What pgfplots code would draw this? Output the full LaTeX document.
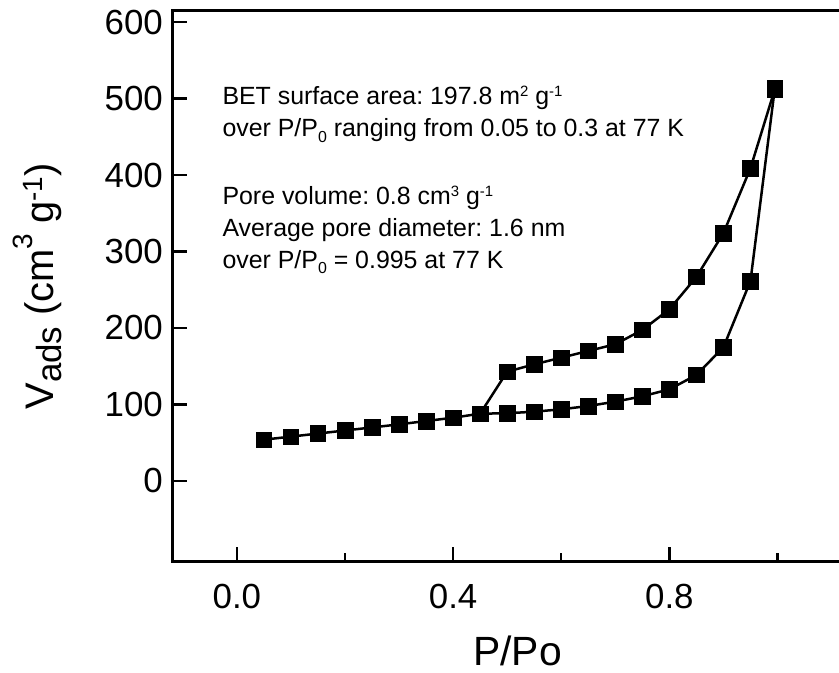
\documentclass[border=0pt]{standalone}
\usepackage{graphicx}
\usepackage{pgfplots}
\pgfplotsset{compat=1.18}
\usepackage{pgfplotstable}
\usepackage{fontspec}
\setmainfont{Liberation Sans}
\frenchspacing

\pgfplotstableread{
x y
0.05 54
0.10 58
0.15 62
0.20 66
0.25 70
0.30 74
0.35 78.4
0.40 82.7
0.45 88
0.50 88.5
0.55 90.6
0.60 93.7
0.65 98
0.70 103.7
0.75 110.7
0.80 119.8
0.85 138.6
0.90 174.8
0.95 261.4
0.995 513
}\adsorption

\pgfplotstableread{
x y
0.995 512
0.95 408.8
0.90 324
0.85 266.7
0.80 224.4
0.75 197.4
0.70 178.7
0.65 170
0.60 161.2
0.55 152.5
0.50 142.9
0.45 88
}\desorption

\newcommand{\annsup}[1]{\raisebox{8.5bp}{\fontsize{15}{15}\selectfont #1}}
\newcommand{\annsub}[1]{\raisebox{-5.5bp}{\fontsize{16}{16}\selectfont #1}}

\begin{document}
\begin{tikzpicture}[x=1bp,y=1bp]
\useasboundingbox (0,0) rectangle (839,673);
\begin{axis}[
  at={(172bp,111bp)}, anchor=south west,
  scale only axis, width=667bp, height=551bp,
  xmin=-0.12, xmax=1.1138, ymin=-105.9, ymax=614.4,
  axis x line*=bottom, axis y line*=left,
  axis line style={-, line width=3bp, line cap=rect},
  xtick={0,0.4,0.8}, xticklabels={0.0,0.4,0.8},
  minor xtick={0.2,0.6,1.0},
  ytick={0,100,200,300,400,500,600},
  tick align=inside,
  major tick length=15bp, minor tick length=9bp,
  every tick/.style={line width=2.5bp, black},
  /pgf/number format/assume math mode=true,
  tick label style={font=\fontsize{35}{35}\selectfont},
  xticklabel style={anchor=base, yshift=-47bp},
  yticklabel style={anchor=east, inner sep=0pt, xshift=-9bp},
  xlabel={P/Po},
  xlabel style={font=\fontsize{41}{41}\selectfont, at={(rel axis cs:0.518,0)}, anchor=base, yshift=-104bp, inner sep=0pt, text depth=0pt},
  ylabel={V\raisebox{-8.7bp}{\fontsize{35}{35}\selectfont ads}\hspace{0.28em}(cm\raisebox{21bp}{\fontsize{28}{28}\selectfont 3}\hspace{0.25em}g\raisebox{11bp}{\fontsize{28}{28}\selectfont -1})},
  ylabel style={font=\fontsize{40}{40}\selectfont, at={(rel axis cs:-0.1784,0.5)}, anchor=base},
  clip=false,
]
\addplot[black, line width=2.5bp, mark=square*, mark size=7.8bp,
  mark options={solid, fill=black, line width=0.6bp}] table[x=x,y=y] {\adsorption};
\addplot[black, line width=2.5bp, mark=square*, mark size=7.8bp,
  mark options={solid, fill=black, line width=0.6bp}] table[x=x,y=y] {\desorption};
\draw[line width=3bp, line cap=rect] (rel axis cs:0,1) -- (rel axis cs:1,1);
\end{axis}
\begin{scope}[every node/.style={anchor=base west, inner sep=0pt, font=\fontsize{25}{30}\selectfont}]
\node at (222.3,568) {BET surface area: 197.8 m\annsup{2} g\annsup{-1}};
\node at (222.3,536.3) {over P/P\annsub{0} ranging from 0.05 to 0.3 at 77 K};
\node at (222.3,468) {Pore volume: 0.8 cm\annsup{3} g\annsup{-1}};
\node at (222.3,436.3) {Average pore diameter: 1.6 nm};
\node at (222.3,404.7) {over P/P\annsub{0} = 0.995 at 77 K};
\end{scope}
\end{tikzpicture}
\end{document}
